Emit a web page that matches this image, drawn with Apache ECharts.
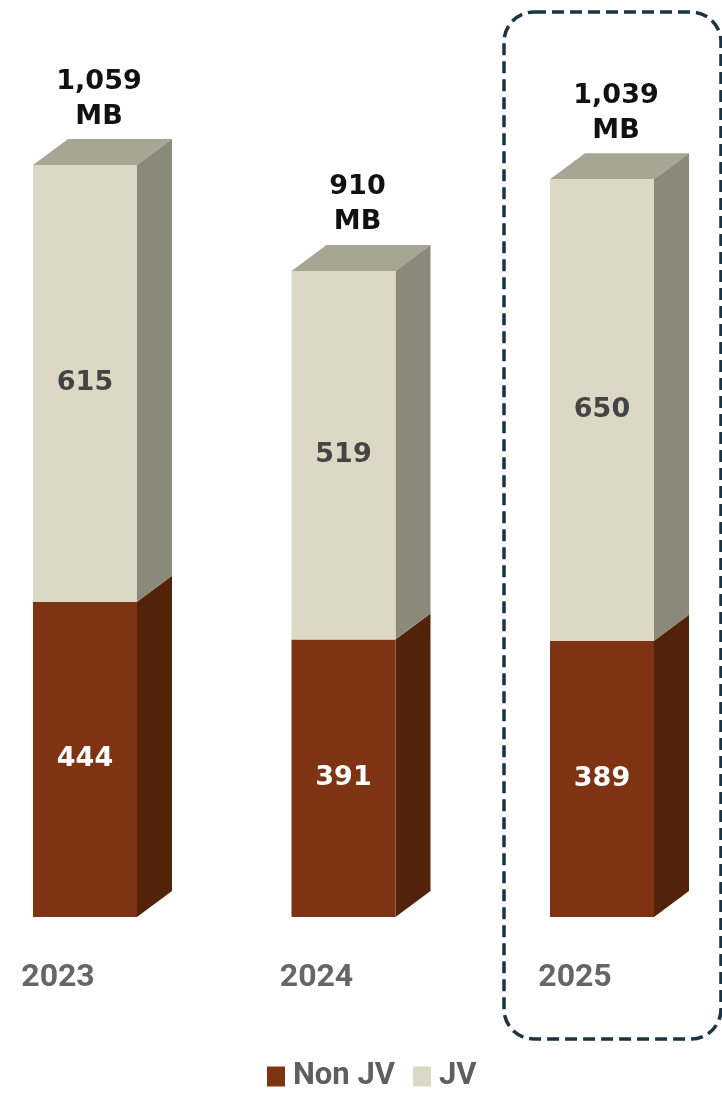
<!DOCTYPE html>
<html>
<head>
<meta charset="utf-8">
<style>
  html, body { margin: 0; padding: 0; background: #ffffff; }
  #chart { width: 722px; height: 1095px; }
</style>
<script src="https://cdn.jsdelivr.net/npm/echarts@6/dist/echarts.min.js"></script>
</head>
<body>
<div id="chart"></div>
<script>
// Volumes by year, in MB
const years = ['2023', '2024', '2025'];
const nonJV = [444, 391, 389];
const jv = [615, 519, 650];
const totals = years.map((_, i) => nonJV[i] + jv[i]);

// Box depth (pseudo-3D offset) and face width relative to category spacing
const DEPTH_X = 35;
const DEPTH_Y = 26;
const BAR_RATIO = 0.4023;

const COLORS = {
  nonJV: { front: '#7E3412', side: '#52220B', top: '#6A2A0E' },
  jv: { front: '#DDD8C5', side: '#8B8A7A', top: '#A7A594' }
};

const LABEL_FONT = '"DejaVu Sans", sans-serif';
const AXIS_FONT = 'Roboto, "Liberation Sans", sans-serif';

function boxRenderer(palette, labelColor, drawTop) {
  return function (params, api) {
    const cat = api.value(0);
    const lo = api.value(1);
    const hi = api.value(2);
    const pLo = api.coord([cat, lo]);
    const pHi = api.coord([cat, hi]);
    const bw = api.size([1, 0])[0] * BAR_RATIO;
    const xl = pLo[0] - bw / 2;
    const xr = pLo[0] + bw / 2;
    const yb = pLo[1];
    const yt = pHi[1];
    const children = [
      {
        type: 'polygon',
        shape: { points: [[xr, yb], [xr + DEPTH_X, yb - DEPTH_Y], [xr + DEPTH_X, yt - DEPTH_Y], [xr, yt]] },
        style: { fill: palette.side }
      },
      {
        type: 'rect',
        shape: { x: xl, y: yt, width: bw, height: yb - yt },
        style: { fill: palette.front }
      },
      {
        type: 'text',
        x: pLo[0],
        y: (yb + yt) / 2,
        style: {
          text: String(hi - lo),
          fill: labelColor,
          font: 'bold 27px ' + LABEL_FONT,
          align: 'center',
          verticalAlign: 'middle'
        }
      }
    ];
    if (drawTop) {
      children.unshift({
        type: 'polygon',
        shape: { points: [[xl, yt], [xl + DEPTH_X, yt - DEPTH_Y], [xr + DEPTH_X, yt - DEPTH_Y], [xr, yt]] },
        style: { fill: palette.top }
      });
    }
    return { type: 'group', children: children };
  };
}

function totalRenderer(params, api) {
  const cat = api.value(0);
  const total = api.value(1);
  const p = api.coord([cat, total]);
  return {
    type: 'text',
    x: p[0] + 14,
    y: p[1] - DEPTH_Y - 5,
    style: {
      text: total.toLocaleString('en-US') + '\nMB',
      fill: '#111111',
      font: 'bold 27px ' + LABEL_FONT,
      lineHeight: 35,
      align: 'center',
      verticalAlign: 'bottom'
    }
  };
}

const chart = echarts.init(document.getElementById('chart'), null, { renderer: 'canvas' });

chart.setOption({
  animation: false,
  backgroundColor: '#ffffff',
  grid: { left: 85, right: 120, top: 65, bottom: 178 },
  xAxis: {
    type: 'category',
    data: years,
    boundaryGap: false,
    axisLine: { show: false },
    axisTick: { show: false },
    splitLine: { show: false },
    axisLabel: {
      margin: 45,
      color: '#666666',
      fontFamily: AXIS_FONT,
      fontWeight: 'bold',
      fontSize: 32,
      padding: [0, 54, 0, 0]
    }
  },
  yAxis: {
    type: 'value',
    min: 0,
    max: 1200,
    show: false
  },
  legend: {
    data: ['Non JV', 'JV'],
    left: 262,
    top: 1056,
    icon: 'rect',
    itemWidth: 18,
    itemHeight: 20,
    itemGap: 18,
    textStyle: {
      color: '#5f5f5f',
      fontFamily: AXIS_FONT,
      fontWeight: 'bold',
      fontSize: 31,
      padding: [0, 0, 0, 3]
    }
  },
  graphic: [
    {
      type: 'rect',
      shape: { x: 504, y: 12, width: 217, height: 1027, r: 30 },
      style: { fill: 'none', stroke: '#1C3344', lineWidth: 3.5, lineDash: [12, 6] },
      z: 10
    }
  ],
  series: [
    {
      name: 'Non JV',
      type: 'custom',
      itemStyle: { color: COLORS.nonJV.front },
      renderItem: boxRenderer(COLORS.nonJV, '#ffffff', false),
      encode: { x: 0, y: [1, 2] },
      data: nonJV.map((v, i) => [i, 0, v])
    },
    {
      name: 'JV',
      type: 'custom',
      itemStyle: { color: COLORS.jv.front },
      renderItem: boxRenderer(COLORS.jv, '#444444', true),
      encode: { x: 0, y: [1, 2] },
      data: jv.map((v, i) => [i, nonJV[i], nonJV[i] + v])
    },
    {
      name: 'Total',
      type: 'custom',
      renderItem: totalRenderer,
      encode: { x: 0, y: 1 },
      data: totals.map((v, i) => [i, v])
    }
  ]
});
</script>
</body>
</html>
